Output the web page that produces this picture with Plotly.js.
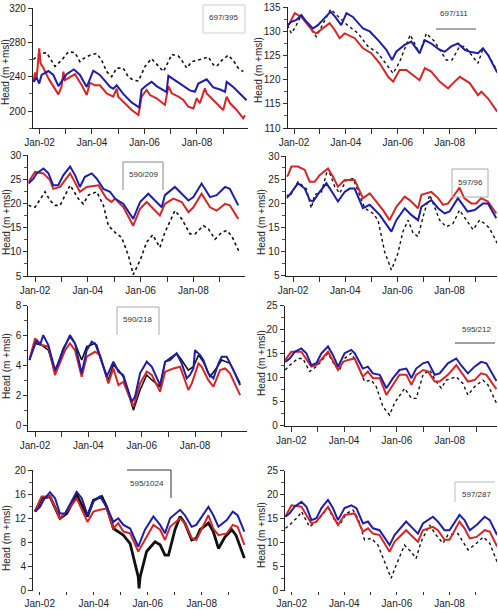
<!DOCTYPE html>
<html><head><meta charset="utf-8">
<script src="https://cdn.plot.ly/plotly-3.0.1.min.js"></script>
<style>html,body{margin:0;padding:0;background:#fff}#chart{width:498px;height:609px}</style>
</head><body><div id="chart"></div>
<script>
// ---------------- DATA ----------------
const xTickVals = [2002, 2003, 2004, 2005, 2006, 2007, 2008, 2009];
const xTickText = ['Jan-02', '', 'Jan-04', '', 'Jan-06', '', 'Jan-08', ''];
const wellLabels = ['697/395', '697/111', '590/209', '597/96', '590/218', '595/212', '595/1024', '597/287'];
const yTitle = 'Head (m +msl)';
const seriesNames = ['Observed', 'Model 1', 'Model 2'];

// Panel 1 – 697/395
const p1Obs = [[2001.77,260],[2002.02,267],[2002.27,268],[2002.59,252],[2002.84,259],[2003.10,269],[2003.35,268],[2003.54,257.5],[2003.67,261],[2003.92,265],[2004.18,267],[2004.37,259],[2004.56,246],[2004.75,240],[2004.94,250],[2005.19,250],[2005.38,240],[2005.57,236],[2005.77,235],[2006.02,252],[2006.27,261],[2006.46,255],[2006.72,246],[2006.91,257.5],[2007.04,266],[2007.29,264],[2007.42,259],[2007.61,250],[2007.80,257.5],[2008.11,260],[2008.43,263],[2008.62,254],[2008.75,252],[2008.94,259],[2009.19,265],[2009.38,259],[2009.57,250],[2009.76,246]];
const p1Blue = [[2001.77,234],[2001.89,239],[2001.99,232],[2002.08,242],[2002.34,246.6],[2002.53,242],[2002.72,229],[2002.84,234],[2003.03,243],[2003.31,248.5],[2003.54,242],[2003.80,228],[2003.95,240],[2004.05,247],[2004.30,242],[2004.69,228],[2004.81,226],[2004.94,230],[2005.19,220],[2005.51,210],[2005.80,204],[2005.89,225],[2006.08,230],[2006.27,234],[2006.46,229],[2006.72,224],[2006.84,222],[2006.91,241],[2007.16,236],[2007.48,230],[2007.73,224],[2007.92,222.5],[2008.05,232],[2008.37,237],[2008.62,227.5],[2008.88,225],[2009.07,222.5],[2009.13,234],[2009.38,228],[2009.89,212.5]];
const p1Red = [[2001.77,234],[2001.83,245],[2001.89,238],[2001.99,273],[2002.04,255.5],[2002.15,250],[2002.34,238],[2002.72,219.4],[2002.84,228.3],[2002.91,245.8],[2002.97,236],[2003.35,243],[2003.61,230],[2003.80,218.6],[2003.92,233],[2004.11,230],[2004.30,230],[2004.56,220.6],[2004.81,216.7],[2004.94,226],[2005.00,216.7],[2005.26,209],[2005.51,201.2],[2005.77,195.3],[2005.89,216.7],[2006.08,224.5],[2006.21,218.6],[2006.46,214.8],[2006.78,207],[2006.91,229],[2007.04,220.6],[2007.29,216.7],[2007.48,212.8],[2007.67,205],[2007.86,203],[2007.99,214.8],[2008.11,209],[2008.30,226.4],[2008.37,220.6],[2008.62,212.8],[2009.00,201.2],[2009.13,216.7],[2009.26,209],[2009.51,201.2],[2009.76,191.5],[2009.83,195]];

// Panel 2 – 697/111
const p2Obs = [[2001.75,131.3],[2001.90,129.6],[2002.09,131.3],[2002.28,133.4],[2002.86,128.9],[2003.41,134.6],[2004.06,131.3],[2004.47,129.6],[2004.85,126.9],[2005.24,125.5],[2005.82,121.3],[2006.07,123.7],[2006.48,129.3],[2006.84,125.5],[2007.10,129.6],[2007.42,127.9],[2007.87,124.1],[2008.09,124.1],[2008.38,126.9],[2008.58,126.9],[2009.09,123.4],[2009.28,126.4],[2009.48,125.2],[2009.83,121.8]];
const p2Blue = [[2001.75,131.3],[2001.90,132],[2002.09,132.4],[2002.28,133.4],[2002.48,132],[2002.73,130.6],[2002.92,131.3],[2003.18,132.7],[2003.41,134.1],[2003.59,133],[2003.82,131.3],[2004.02,133.8],[2004.27,133],[2004.66,130.6],[2004.92,130],[2005.24,128.2],[2005.56,126.2],[2005.78,124.1],[2005.94,125.8],[2006.26,127.2],[2006.52,127.9],[2006.84,125.5],[2007.04,128.2],[2007.29,127.5],[2007.61,126.2],[2007.81,125.8],[2008.06,126.9],[2008.32,127.5],[2008.58,126.2],[2008.77,125.8],[2009.09,125.5],[2009.28,126.5],[2009.48,125.1],[2009.83,121.5]];
const p2Red = [[2001.75,131],[2001.83,131.7],[2002.03,133.8],[2002.28,133],[2002.48,131.7],[2002.73,130],[2002.86,129.6],[2003.18,131],[2003.37,131.7],[2003.57,130.3],[2003.76,128.6],[2003.95,129.6],[2004.34,128.6],[2004.66,126.5],[2004.98,125.5],[2005.30,123.4],[2005.63,120.6],[2005.82,119.6],[2006.07,122],[2006.33,122],[2006.59,121],[2006.84,119.9],[2007.04,122.4],[2007.29,121.7],[2007.61,119.6],[2007.94,118.2],[2008.13,119.3],[2008.39,120.6],[2008.77,119.3],[2009.09,116.8],[2009.22,117.5],[2009.48,116.1],[2009.83,113.4]];

// Panel 3 – 590/209
const p3Obs = [[2001.75,19.6],[2002.00,19.2],[2002.25,21.3],[2002.38,22.4],[2002.57,20.6],[2002.76,19.6],[2002.95,19.6],[2003.33,23.75],[2003.64,21],[2003.83,19.9],[2004.02,21.7],[2004.34,22.4],[2004.59,19.6],[2004.78,15.4],[2005.09,13.7],[2005.28,13],[2005.54,9.2],[2005.72,5.3],[2005.98,8.2],[2006.23,12],[2006.46,13.5],[2006.73,10.9],[2006.92,14],[2007.30,18.5],[2007.56,16.8],[2007.87,13.7],[2008.06,13.7],[2008.38,15.4],[2008.57,14.7],[2008.82,12.6],[2009.07,14],[2009.26,14.4],[2009.45,13.3],[2009.74,9.9]];
const p3Blue = [[2001.75,24.1],[2001.94,25.1],[2002.06,26.2],[2002.32,27.2],[2002.51,26.2],[2002.69,23.75],[2002.88,23.75],[2003.07,25.8],[2003.33,27.6],[2003.52,25.8],[2003.70,23.4],[2003.89,25.5],[2004.15,26.2],[2004.34,25.1],[2004.59,23],[2004.84,22.4],[2005.03,21],[2005.35,19.9],[2005.72,16.8],[2005.98,20.3],[2006.29,22],[2006.55,20.6],[2006.80,19.2],[2006.92,21.7],[2007.30,23.4],[2007.56,22],[2007.81,20.6],[2008.00,21.3],[2008.31,24.1],[2008.63,21.3],[2008.88,21.7],[2009.20,23.4],[2009.38,23],[2009.70,19.6]];
const p3Red = [[2001.75,24.4],[2002.00,26.5],[2002.32,26.2],[2002.57,24.8],[2002.69,23],[2002.95,23.4],[2003.33,26.2],[2003.70,22.4],[2003.96,23.4],[2004.40,23.75],[2004.71,21],[2004.90,20.3],[2005.03,21],[2005.35,19.2],[2005.72,15.4],[2005.98,18.9],[2006.23,20.3],[2006.73,17.5],[2006.92,19.9],[2007.24,21],[2007.56,20.3],[2007.81,18.2],[2008.00,19.2],[2008.31,22],[2008.63,19.2],[2008.88,18.5],[2009.20,19.9],[2009.38,19.6],[2009.70,16.8]];

// Panel 4 – 597/96
const p4Obs = [[2001.75,21.9],[2001.87,21.5],[2002.19,24.6],[2002.51,23.2],[2002.70,19.1],[2002.83,21.9],[2003.09,22.5],[2003.34,27.4],[2003.60,23.6],[2003.79,22.2],[2004.04,25],[2004.30,25.3],[2004.55,21.9],[2004.75,19.1],[2005.07,18],[2005.26,16.6],[2005.51,10],[2005.77,6.2],[2006.02,9.7],[2006.21,14.2],[2006.41,16.6],[2006.60,13.9],[2006.79,13.2],[2007.04,18.4],[2007.24,21.9],[2007.43,19.1],[2007.62,16.6],[2007.87,15.2],[2008.13,15.9],[2008.38,18.7],[2008.56,17.3],[2008.90,14.6],[2009.15,16.6],[2009.34,15.9],[2009.53,14.9],[2009.83,11.7]];
const p4Blue = [[2001.75,21.2],[2001.87,21.9],[2002.19,24.3],[2002.45,23.2],[2002.64,20.8],[2002.77,20.5],[2003.02,22.5],[2003.28,24.3],[2003.53,22.2],[2003.72,20.5],[2003.98,22.5],[2004.17,23.2],[2004.36,23.2],[2004.68,19.1],[2004.94,19.8],[2005.32,17.7],[2005.77,14.2],[2005.96,16.6],[2006.28,19.1],[2006.53,17.7],[2006.79,16.6],[2006.92,19.4],[2007.30,20.8],[2007.56,19.1],[2007.81,18],[2008.00,18.4],[2008.32,21.2],[2008.51,19.8],[2008.69,18.4],[2008.96,18.7],[2009.28,20.1],[2009.47,20.1],[2009.79,17]];
const p4Red = [[2001.75,25.7],[2001.81,26],[2001.94,27.8],[2002.19,27.8],[2002.45,27.1],[2002.64,24.6],[2002.83,24.6],[2003.02,26],[2003.34,27.4],[2003.53,25.7],[2003.72,23.6],[2003.98,25],[2004.36,25],[2004.68,21.2],[2004.94,22.2],[2005.19,20.5],[2005.45,18.7],[2005.70,16.6],[2005.96,19.4],[2006.28,21.5],[2006.47,20.8],[2006.79,19.1],[2006.92,21.9],[2007.30,22.5],[2007.56,21.2],[2007.75,19.8],[2007.94,20.1],[2008.19,21.9],[2008.38,23.4],[2008.56,21.2],[2008.83,20.1],[2009.02,20.1],[2009.21,21.2],[2009.47,20.5],[2009.79,18]];

// Panel 5 – 590/218
const p5Obs = [[2001.79,4.38],[2002.00,5.49],[2002.25,5.38],[2002.50,5.04],[2002.75,3.6],[2003.06,5.16],[2003.31,5.93],[2003.50,5.49],[2003.75,4.38],[2003.94,5.27],[2004.25,5.49],[2004.56,3.93],[2004.75,3.05],[2004.94,4.05],[2005.13,3.71],[2005.31,3.27],[2005.69,1.04],[2005.94,2.38],[2006.19,3.38],[2006.38,3.05],[2006.69,2.6],[2006.88,4.27],[2007.13,4.6],[2007.31,4.82],[2007.50,4.38],[2007.75,3.71],[2007.94,3.93],[2008.13,4.71],[2008.31,4.27],[2008.56,3.27],[2008.75,3.71],[2009.00,4.38],[2009.31,4.16],[2009.69,2.82]];
const p5Blue = [[2001.79,4.38],[2001.94,5.04],[2002.06,5.7],[2002.19,5.38],[2002.31,6.04],[2002.50,5.38],[2002.75,3.71],[2002.88,4.16],[2003.06,5.04],[2003.31,6.04],[2003.50,5.49],[2003.75,3.49],[2003.94,5.04],[2004.13,5.6],[2004.31,5.38],[2004.50,4.27],[2004.69,3.27],[2004.94,4.27],[2005.13,3.6],[2005.31,3.38],[2005.63,1.6],[2005.75,1.93],[2005.94,3.49],[2006.19,4.27],[2006.38,3.93],[2006.69,2.71],[2006.88,4.27],[2007.06,4.38],[2007.31,4.82],[2007.50,4.16],[2007.69,3.16],[2007.81,3.38],[2007.94,3.82],[2008.00,5.04],[2008.19,4.71],[2008.31,4.38],[2008.50,3.49],[2008.69,3.16],[2008.88,4.16],[2009.00,4.6],[2009.19,4.6],[2009.44,3.71],[2009.69,2.71]];
const p5Red = [[2001.79,4.38],[2002.00,5.82],[2002.25,5.38],[2002.50,5.27],[2002.75,3.38],[2002.88,3.93],[2003.13,5.04],[2003.31,5.49],[2003.50,5.04],[2003.75,3.27],[2003.94,4.6],[2004.25,4.93],[2004.44,4.71],[2004.75,2.82],[2004.94,3.82],[2005.13,2.71],[2005.31,2.93],[2005.69,1.27],[2005.94,2.82],[2006.19,3.6],[2006.38,3.38],[2006.69,2.27],[2006.88,3.6],[2007.19,3.82],[2007.44,3.93],[2007.75,2.38],[2007.88,2.82],[2008.13,4.16],[2008.25,3.93],[2008.50,3.04],[2008.69,2.6],[2008.94,3.71],[2009.13,3.82],[2009.31,3.49],[2009.69,2.04]];

// Panel 6 – 595/212
const p6Obs = [[2001.77,11.6],[2001.94,12.6],[2002.25,14],[2002.44,14],[2002.69,11.3],[2002.95,12.3],[2003.39,15.1],[2003.64,12.6],[2003.83,11.6],[2004.02,14],[2004.27,15.1],[2004.46,13.3],[2004.78,9.2],[2005.03,9.5],[2005.22,8.1],[2005.47,4],[2005.72,2.2],[2005.91,4.7],[2006.29,7.8],[2006.55,5.7],[2006.73,5.7],[2006.99,10.6],[2007.24,11.6],[2007.49,9.2],[2007.68,7.8],[2007.87,9.5],[2008.25,10.2],[2008.50,8.8],[2008.69,6.4],[2008.94,8.1],[2009.26,9.5],[2009.45,8.5],[2009.77,4.7]];
const p6Blue = [[2001.77,13.3],[2001.94,14],[2002.13,15.4],[2002.38,16.1],[2002.57,15.1],[2002.76,12.6],[2002.95,13],[2003.14,15.1],[2003.39,16.5],[2003.58,14.7],[2003.77,12.3],[2004.02,15.1],[2004.27,15.8],[2004.40,15.1],[2004.71,11.9],[2004.90,12.3],[2005.09,10.9],[2005.35,10.6],[2005.60,7.8],[2005.85,9.9],[2006.10,11.6],[2006.36,11.9],[2006.55,9.9],[2006.73,11.9],[2006.99,13],[2007.18,13.3],[2007.43,10.6],[2007.62,10.9],[2007.93,13],[2008.25,14],[2008.43,12.6],[2008.69,10.9],[2008.94,12.3],[2009.19,13.3],[2009.39,13],[2009.77,9.3]];
const p6Red = [[2001.77,13.7],[2002.00,15.4],[2002.38,15.4],[2002.76,12.3],[2002.95,12.6],[2003.39,15.4],[2003.77,11.6],[2003.96,13.3],[2004.15,13.7],[2004.40,14],[2004.71,10.2],[2004.90,11.3],[2005.09,9.9],[2005.35,9.9],[2005.60,6.4],[2005.85,8.5],[2006.10,10.6],[2006.36,10.6],[2006.55,8.5],[2006.73,10.6],[2006.99,11.6],[2007.18,11.3],[2007.43,9.2],[2007.62,9.2],[2007.93,10.6],[2008.25,12.6],[2008.43,11.3],[2008.69,9.2],[2008.94,9.5],[2009.19,10.9],[2009.39,10.6],[2009.77,7.6]];

// Panel 7 – 595/1024
const p7Obs = [[2001.83,13.1],[2002.07,15.3],[2002.38,15.6],[2002.75,12],[2003.00,12.8],[2003.37,15.9],[2003.77,12.3],[2003.99,15],[2004.30,15.6],[2004.48,13.9],[2004.73,10.3],[2004.91,9.8],[2005.10,9.2],[2005.35,7.8],[2005.65,2.3],[2005.68,0.4],[2005.72,2.3],[2005.96,6.5],[2006.27,8.1],[2006.46,7.6],[2006.64,5.9],[2006.77,5.9],[2007.01,10.1],[2007.20,12.3],[2007.38,11.2],[2007.63,8.4],[2007.80,8.7],[2007.94,10.1],[2008.25,11.2],[2008.43,9.8],[2008.62,7],[2008.86,8.9],[2009.11,10.1],[2009.27,9.2],[2009.58,5.4]];
const p7Blue = [[2001.83,13.1],[2002.01,13.9],[2002.14,15],[2002.38,16.3],[2002.57,15.3],[2002.75,12.8],[2002.94,12.8],[2003.19,14.8],[2003.37,16.4],[2003.56,15.3],[2003.77,12.5],[2003.99,14.8],[2004.23,15.6],[2004.48,13.9],[2004.73,11.4],[2004.91,12],[2005.10,10.9],[2005.35,10.3],[2005.65,7.3],[2005.90,10.1],[2006.21,12.3],[2006.46,10.9],[2006.64,9.5],[2006.83,12],[2007.20,13.4],[2007.38,12.5],[2007.63,10.6],[2007.80,10.9],[2008.00,12.3],[2008.25,13.9],[2008.43,12.5],[2008.62,10.6],[2008.93,11.7],[2009.15,13.1],[2009.33,12.5],[2009.58,9.8]];
const p7Red = [[2001.83,13.1],[2002.07,15.6],[2002.38,15.6],[2002.75,12],[2002.94,12.8],[2003.37,15.3],[2003.77,11.4],[2003.99,13.1],[2004.23,13.4],[2004.48,13.6],[2004.73,10.3],[2004.91,11.2],[2005.10,9.8],[2005.35,9.5],[2005.65,6.5],[2005.90,8.4],[2006.21,10.9],[2006.46,10.1],[2006.64,8.4],[2006.83,10.6],[2007.20,12],[2007.38,11.2],[2007.63,8.7],[2007.80,8.4],[2008.00,10.3],[2008.25,12.5],[2008.43,10.3],[2008.62,9.2],[2008.93,9.5],[2009.15,10.9],[2009.33,10.6],[2009.58,7.6]];

// Panel 8 – 597/287
const p8Obs = [[2001.76,13],[2001.92,13.7],[2002.24,15.4],[2002.37,16.5],[2002.68,13.3],[2002.94,14.4],[2003.38,17.2],[2003.63,14.7],[2003.82,13.7],[2004.08,16.1],[2004.33,16.8],[2004.52,15.1],[2004.77,10.6],[2005.03,10.9],[2005.28,9.5],[2005.59,5.3],[2005.78,2.6],[2005.97,5.3],[2006.29,9.5],[2006.54,8.1],[2006.73,6.7],[2006.92,10.2],[2007.24,13.7],[2007.49,11.6],[2007.75,9.9],[2007.94,11.6],[2008.32,11.9],[2008.51,10.2],[2008.71,8.5],[2009.03,9.9],[2009.28,11.2],[2009.53,9.9],[2009.81,6]];
const p8Blue = [[2001.76,15.4],[2001.92,16.1],[2002.11,17.5],[2002.37,18.5],[2002.56,17.5],[2002.75,14.7],[2002.94,15.1],[2003.13,17.2],[2003.38,18.9],[2003.57,17.2],[2003.76,14.7],[2004.01,17.2],[2004.27,17.8],[2004.46,17.2],[2004.71,14],[2004.90,14.4],[2005.09,13],[2005.34,12.6],[2005.72,9.5],[2005.91,11.6],[2006.35,14.4],[2006.61,13],[2006.80,11.9],[2006.99,14],[2007.37,15.4],[2007.56,14.4],[2007.81,12.6],[2008.00,12.6],[2008.38,15.8],[2008.57,14.7],[2008.77,12.6],[2009.03,13.7],[2009.34,15.4],[2009.53,14.7],[2009.81,11.6]];
const p8Red = [[2001.76,15.4],[2001.99,17.8],[2002.37,17.5],[2002.75,14],[2002.94,14.4],[2003.38,17.5],[2003.76,13.7],[2004.01,15.8],[2004.39,16.1],[2004.71,12.3],[2004.90,13],[2005.09,11.9],[2005.34,11.6],[2005.72,8.1],[2005.91,10.2],[2006.35,12.6],[2006.61,11.2],[2006.80,10.2],[2006.99,12.6],[2007.37,13.3],[2007.56,12.6],[2007.81,10.6],[2008.00,10.6],[2008.38,14.4],[2008.57,13],[2008.77,10.9],[2009.03,11.2],[2009.34,12.6],[2009.53,12.3],[2009.81,9.2]];

// ---------------- STYLE / GEOMETRY ----------------
const W = 498, H = 609;
const BLUE = '#1e1ea6', RED = '#d42626', BLACK = '#111';
const FONT = 'Liberation Sans, Arial, sans-serif';

const panels = [
  {obs:p1Obs, blue:p1Blue, red:p1Red, obsDash:'dot', obsW:1.6, p2:39.5, ppy:26.25, yTop:8, yBot:128.2, yr:[180,320], dt:40, t0:200, mn:20, xLine:true, tl:5, titleX:6, titleY:72},
  {obs:p2Obs, blue:p2Blue, red:p2Red, obsDash:'dot', obsW:1.4, p2:294, ppy:25.95, yTop:7.3, yBot:128, yr:[110,135], dt:5, t0:110, mn:2.5, xLine:true, tl:5, titleX:259, titleY:70},
  {obs:p3Obs, blue:p3Blue, red:p3Red, obsDash:'dot', obsW:1.6, p2:35, ppy:26.4, yTop:155, yBot:276, yr:[5,30], dt:5, t0:5, mn:2.5, xLine:true, tl:5, titleX:6, titleY:222},
  {obs:p4Obs, blue:p4Blue, red:p4Red, obsDash:'dot', obsW:1.4, p2:293, ppy:26.1, yTop:156, yBot:275.7, yr:[5,30], dt:5, t0:5, mn:2.5, xLine:true, tl:5, titleX:261, titleY:222},
  {obs:p5Obs, blue:p5Blue, red:p5Red, obsDash:'solid', obsW:1.6, p2:35, ppy:26.67, yTop:305.7, yBot:430.7, yr:[-0.33,8], dt:2, t0:0, mn:1, xLine:true, tl:5, titleX:6, titleY:366},
  {obs:p6Obs, blue:p6Blue, red:p6Red, obsDash:'dot', obsW:1.4, p2:291.3, ppy:26.4, yTop:305.7, yBot:425.7, yr:[0,25], dt:5, t0:0, mn:2.5, xLine:true, tl:5, titleX:261, titleY:363},
  {obs:p7Obs, blue:p7Blue, red:p7Red, obsDash:'solid', obsW:2.8, p2:39.7, ppy:27, yTop:470, yBot:590.7, yr:[0,20], dt:4, t0:0, mn:2, xLine:false, tl:3, titleX:6, titleY:538},
  {obs:p8Obs, blue:p8Blue, red:p8Red, obsDash:'dot', obsW:1.4, p2:291.7, ppy:26.3, yTop:470.7, yBot:590.7, yr:[0,25], dt:5, t0:0, mn:2.5, xLine:false, tl:3, titleX:261, titleY:535}
];

// label boxes (pixel geometry) : text position + line segments
const boxes = [
  {tx:223, ty:18, segs:[[203,5,245,5],[245,5,245,33],[245,33,203,33],[203,33,203,5]], col:'#cfcfcf'},
  {tx:454, ty:14, segs:[[436,29,476,29]], col:'#555'},
  {tx:143, ty:174, segs:[[123,162,163,162],[123,162,123,190],[163,162,163,190]], col:'#888'},
  {tx:470, ty:182, segs:[[452,169,488,169],[452,169,452,197],[488,169,488,197],[452,197,488,197]], col:'#aaa'},
  {tx:137, ty:319, segs:[[117,307,159,307],[117,307,117,335],[159,307,159,335]], col:'#aaa'},
  {tx:476, ty:329, segs:[[455,343,495,343]], col:'#444'},
  {tx:147, ty:483, segs:[[127,470,171,470],[171,470,171,498]], col:'#333'},
  {tx:476, ty:494, segs:[[455,482,495,482],[455,482,455,502]], col:'#bbb'}
];

const px = x => x / W;
const py = y => 1 - y / H;

const traces = [];
const layout = {
  width: W, height: H,
  margin: {l:0, r:0, t:0, b:0},
  paper_bgcolor: '#fff', plot_bgcolor: 'rgba(0,0,0,0)',
  showlegend: false, hovermode: false,
  font: {family: FONT, size: 10, color: '#222'},
  annotations: [], shapes: []
};

panels.forEach((p, i) => {
  const n = i + 1;
  const xa = n === 1 ? 'x' : 'x' + n;
  const ya = n === 1 ? 'y' : 'y' + n;
  const x0 = p.p2 - 0.25 * p.ppy;
  let x1 = p.p2 + 7.95 * p.ppy;
  if (x1 > W - 1) x1 = W - 1;
  const rEnd = 2002 + (x1 - p.p2) / p.ppy;

  const mk = (arr, color, width, dash, name) => ({
    type: 'scatter', mode: 'lines', name: name,
    x: arr.map(d => d[0]), y: arr.map(d => d[1]),
    xaxis: xa, yaxis: ya,
    line: {color: color, width: width, dash: dash},
    cliponaxis: true
  });
  traces.push(mk(p.obs, BLACK, p.obsW, p.obsDash, seriesNames[0]));
  traces.push(mk(p.red, RED, 2, 'solid', seriesNames[2]));
  traces.push(mk(p.blue, BLUE, 2, 'solid', seriesNames[1]));

  layout[n === 1 ? 'xaxis' : 'xaxis' + n] = {
    domain: [px(x0), px(x1)], range: [2001.75, rEnd], anchor: ya,
    tickmode: 'array', tickvals: xTickVals, ticktext: xTickText,
    ticks: 'outside', ticklen: p.tl, tickcolor: '#333', tickwidth: 1,
    showline: p.xLine, linecolor: '#222', linewidth: 1,
    showgrid: false, zeroline: false,
    tickfont: {family: FONT, size: 10, color: '#222'}
  };
  layout[n === 1 ? 'yaxis' : 'yaxis' + n] = {
    domain: [py(p.yBot), py(p.yTop)], range: p.yr, anchor: xa,
    tickmode: 'linear', tick0: p.t0, dtick: p.dt,
    ticks: 'outside', ticklen: 4, tickcolor: '#333', tickwidth: 1,
    minor: {tickmode: 'linear', tick0: p.t0, dtick: p.mn, ticks: 'outside', ticklen: 3, tickcolor: '#555', showgrid: false},
    showline: true, linecolor: '#222', linewidth: 1,
    showgrid: false, zeroline: false,
    tickfont: {family: FONT, size: 10, color: '#222'}
  };

  layout.annotations.push({
    xref: 'paper', yref: 'paper', x: px(p.titleX), y: py(p.titleY),
    text: yTitle, textangle: -90, showarrow: false,
    xanchor: 'center', yanchor: 'middle',
    font: {family: FONT, size: 10, color: '#222'}
  });

  const b = boxes[i];
  layout.annotations.push({
    xref: 'paper', yref: 'paper', x: px(b.tx), y: py(b.ty),
    text: wellLabels[i], showarrow: false,
    xanchor: 'center', yanchor: 'middle',
    font: {family: FONT, size: 8, color: '#333'}
  });
  b.segs.forEach(s => layout.shapes.push({
    type: 'line', xref: 'paper', yref: 'paper',
    x0: px(s[0]), y0: py(s[1]), x1: px(s[2]), y1: py(s[3]),
    line: {color: b.col, width: 1}
  }));
});

Plotly.newPlot('chart', traces, layout, {staticPlot: true, displayModeBar: false});
</script>
</body></html>
